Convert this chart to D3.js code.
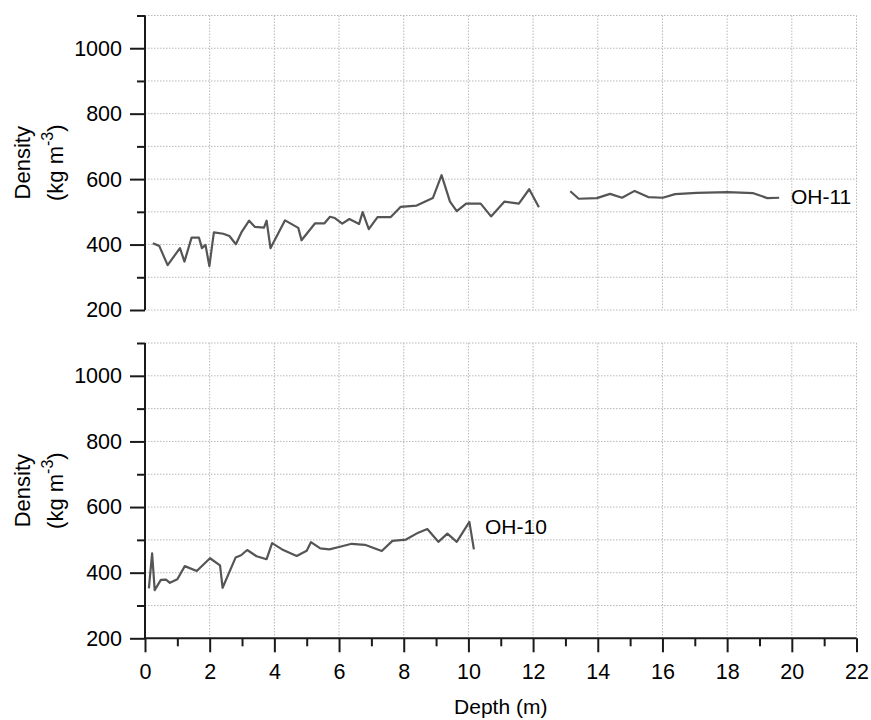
<!DOCTYPE html>
<html>
<head>
<meta charset="utf-8">
<script src="https://cdn.jsdelivr.net/npm/d3@7"></script>
<style>
  body { margin: 0; background: #fff; }
  text { font-family: "Liberation Sans", Arial, sans-serif; fill: #000; }
</style>
</head>
<body>
<script>
const w = 871;
const h = 720;
const left = 145;
const right = 856.5;

// OH-11 core (upper panel), gap between 12.2 and 13.1 m
const depth11 = [0.24, 0.44, 0.70, 1.08, 1.22, 1.44, 1.67, 1.76, 1.87, 1.99, 2.13, 2.42, 2.61, 2.81, 2.99,
    3.22, 3.40, 3.68, 3.76, 3.88, 4.33, 4.74, 4.84, 5.26, 5.55, 5.72, 5.87, 6.10, 6.32, 6.62, 6.73, 6.92,
    7.19, 7.60, 7.90, 8.40, 8.90, 9.17, 9.43, 9.64, 9.93, 10.38, 10.70, 11.11, 11.56, 11.88, 12.18,
    null,
    13.15, 13.41, 13.97, 14.38, 14.75, 15.14, 15.56, 16.01, 16.39, 17.06, 18.01, 18.81, 19.24, 19.61];
const density11 = [404, 396, 337, 389, 348, 421, 421, 389, 399, 334, 437, 433, 426, 401, 439,
    473, 454, 452, 473, 389, 474, 451, 413, 465, 465, 485, 481, 464, 478, 463, 499, 447,
    484, 484, 515, 519, 542, 612, 531, 502, 525, 525, 486, 531, 525, 569, 514,
    null,
    563, 540, 542, 555, 543, 564, 545, 543, 554, 558, 560, 557, 542, 543];

// OH-10 core (lower panel)
const depth10 = [0.12, 0.22, 0.30, 0.49, 0.65, 0.77, 1.00, 1.23, 1.60, 2.01, 2.32, 2.40, 2.80, 2.97, 3.16,
    3.45, 3.76, 3.93, 4.24, 4.69, 5.00, 5.13, 5.42, 5.70, 6.03, 6.39, 6.80, 7.32, 7.65, 8.07, 8.45,
    8.73, 9.07, 9.35, 9.64, 10.03, 10.17];
const density10 = [352, 459, 347, 378, 379, 369, 380, 420, 405, 444, 422, 354, 446, 453, 469,
    450, 441, 490, 471, 451, 467, 493, 474, 471, 479, 488, 485, 466, 497, 501, 522,
    533, 494, 519, 494, 555, 471];

const xTicks = [0, 2, 4, 6, 8, 10, 12, 14, 16, 18, 20, 22];
const yTicks = [200, 400, 600, 800, 1000];

const svg = d3.select("body").append("svg").attr("width", w).attr("height", h);

const xScale = d3.scaleLinear().domain([0, 22]).range([left, right]);

const panels = [
    { name: "OH-11", depth: depth11, density: density11, top: 15.5, bottom: 310, label: [791, 197], xAxis: false },
    { name: "OH-10", depth: depth10, density: density10, top: 343, bottom: 638.3, label: [485, 527], xAxis: true }
];

panels.forEach(function (p) {
    const yScale = d3.scaleLinear().domain([200, 1100]).range([p.bottom, p.top]);
    const g = svg.append("g");

    // horizontal grid every 100
    g.selectAll(".hgrid")
        .data(d3.range(200, 1101, 100))
        .enter()
        .append("line")
        .attr("x1", left)
        .attr("x2", right)
        .attr("y1", function (d) { return yScale(d); })
        .attr("y2", function (d) { return yScale(d); })
        .attr("stroke", "#b8b8b8")
        .attr("stroke-width", 1)
        .attr("stroke-dasharray", "1.5,1.5");

    // vertical grid every 2 m
    g.selectAll(".vgrid")
        .data(xTicks.slice(1))
        .enter()
        .append("line")
        .attr("x1", function (d) { return xScale(d); })
        .attr("x2", function (d) { return xScale(d); })
        .attr("y1", p.top)
        .attr("y2", p.bottom)
        .attr("stroke", "#b8b8b8")
        .attr("stroke-width", 1)
        .attr("stroke-dasharray", "1.5,1.5");

    // y axis
    const yAxis = g.append("g")
        .attr("transform", "translate(" + left + ",0)")
        .call(d3.axisLeft(yScale).tickValues(yTicks).tickSize(15).tickPadding(8).tickFormat(d3.format("d")));
    g.append("g")
        .attr("transform", "translate(" + left + ",0)")
        .call(d3.axisLeft(yScale).tickValues([300, 500, 700, 900, 1100]).tickSize(8).tickFormat(""))
        .select(".domain").remove();
    g.selectAll(".tick line").attr("stroke", "#1a1a1a").attr("stroke-width", 2);
    yAxis.select(".domain").attr("stroke", "#1a1a1a").attr("stroke-width", 2)
        .attr("d", "M0," + p.top + "V" + p.bottom);
    yAxis.selectAll("text").style("font-size", "21.5px").attr("fill", "#000");

    // x axis (bottom panel only)
    if (p.xAxis) {
        const xAxis = g.append("g")
            .attr("transform", "translate(0," + p.bottom + ")")
            .call(d3.axisBottom(xScale).tickValues(xTicks).tickSize(14).tickPadding(11).tickFormat(d3.format("d")));
        g.append("g")
            .attr("transform", "translate(0," + p.bottom + ")")
            .call(d3.axisBottom(xScale).tickValues(d3.range(1, 22, 2)).tickSize(8).tickFormat(""))
            .select(".domain").remove();
        g.selectAll(".tick line").attr("stroke", "#1a1a1a").attr("stroke-width", 2);
        xAxis.select(".domain").attr("stroke", "#1a1a1a").attr("stroke-width", 2)
            .attr("d", "M" + left + ",0H" + right);
        xAxis.selectAll("text").style("font-size", "21.5px").attr("fill", "#000");
    }

    // density line
    const pts = p.depth.map(function (d, i) { return [d, p.density[i]]; });
    const line = d3.line()
        .defined(function (d) { return d[0] !== null; })
        .x(function (d) { return xScale(d[0]); })
        .y(function (d) { return yScale(d[1]); });
    g.append("path")
        .datum(pts)
        .attr("d", line)
        .attr("fill", "none")
        .attr("stroke", "#555")
        .attr("stroke-width", 2.2)
        .attr("stroke-linejoin", "round");

    // series label
    g.append("text")
        .attr("x", p.label[0])
        .attr("y", p.label[1])
        .attr("dy", "0.35em")
        .style("font-size", "21px")
        .text(p.name);

    // y axis title
    const cy = (p.top + p.bottom) / 2;
    const t = g.append("g").attr("transform", "translate(0," + cy + ") rotate(-90)");
    t.append("text")
        .attr("x", 0)
        .attr("y", 30)
        .attr("text-anchor", "middle")
        .style("font-size", "22px")
        .text("Density");
    const t2 = t.append("text")
        .attr("x", 0)
        .attr("y", 63)
        .attr("text-anchor", "middle")
        .style("font-size", "22px");
    t2.append("tspan").text("(kg m");
    t2.append("tspan").attr("dy", -10).style("font-size", "16px").text("-3");
    t2.append("tspan").attr("dy", 10).text(")");
});

svg.append("text")
    .attr("x", (left + right) / 2)
    .attr("y", 714)
    .attr("text-anchor", "middle")
    .style("font-size", "21px")
    .text("Depth (m)");
</script>
</body>
</html>
